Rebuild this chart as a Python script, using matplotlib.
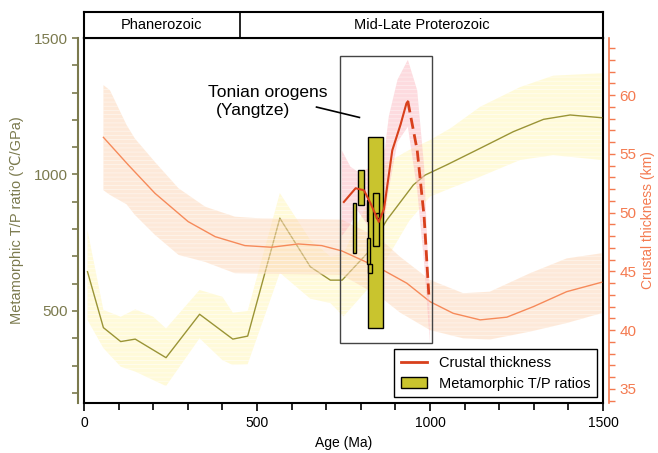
import matplotlib
matplotlib.use("Agg")
import matplotlib.pyplot as plt
from matplotlib.patches import Rectangle, Patch
from matplotlib.lines import Line2D
from matplotlib.ticker import MultipleLocator

plt.rcParams['font.family'] = ['Liberation Sans', 'DejaVu Sans']
plt.rcParams['hatch.linewidth'] = 0.6
plt.rcParams['hatch.color'] = 'white'

# metamorphic T/P ratio (left axis, C/GPa)
tp_age = [10, 56, 106, 148, 237, 334, 430, 473, 566, 654, 712, 746, 819, 875, 952, 986, 1048, 1145, 1241, 1328, 1405, 1496]
tp_val = [644, 439, 388, 397, 329, 488, 397, 408, 840, 662, 613, 613, 712, 833, 962, 998, 1035, 1096, 1157, 1202, 1218, 1208]
tp_band_age = [10, 56, 106, 148, 200, 237, 334, 400, 430, 473, 566, 654, 712, 750, 820, 870, 940, 1000, 1060, 1145, 1260, 1356, 1496]
tp_band_hi = [796, 504, 479, 506, 479, 436, 577, 552, 494, 500, 932, 760, 700, 710, 900, 1040, 1090, 1126, 1170, 1248, 1320, 1362, 1371]
tp_band_lo = [467, 364, 296, 278, 247, 225, 400, 320, 302, 305, 640, 545, 529, 480, 580, 680, 830, 919, 950, 992, 1053, 1071, 1053]

# global crustal thickness (right axis, km)
ct_age = [56, 128, 205, 301, 379, 465, 542, 619, 687, 745, 855, 933, 1000, 1067, 1145, 1222, 1299, 1395, 1496]
ct_val = [56.4, 54.05, 51.64, 49.23, 47.95, 47.19, 47.05, 47.33, 47.19, 46.74, 45.26, 43.99, 42.42, 41.43, 40.87, 41.1, 42.0, 43.27, 44.07]
ct_band_age = [56, 75, 123, 147, 205, 273, 350, 436, 514, 745, 855, 913, 1000, 1096, 1173, 1289, 1395, 1496]
ct_band_hi = [60.85, 60.4, 57.45, 56.3, 54.3, 52.07, 50.5, 49.65, 49.5, 49.4, 47.8, 46.25, 44.27, 43.14, 43.27, 44.84, 46.1, 46.54]
ct_band_lo = [51.9, 51.5, 50.7, 49.8, 48.1, 46.4, 45.8, 44.84, 44.8, 44.7, 42.85, 41.5, 40.0, 39.3, 39.2, 39.87, 40.6, 41.44]

# Yangtze crustal thickness
yz_age = [751, 785, 809, 828, 852, 867, 891, 915, 932, 936]
yz_val = [50.9, 52.07, 51.9, 50.8, 49.2, 50.3, 55.3, 57.5, 59.3, 59.45]
yz_dash_age = [936, 963, 983, 997]
yz_dash_val = [59.45, 55.3, 49.65, 42.8]
yz_band_age = [745, 770, 790, 830, 852, 870, 881, 906, 936, 963, 983, 997, 1000]
yz_band_hi = [55.3, 53.9, 53.5, 53.8, 53.9, 55.5, 58.2, 61.3, 63.0, 60.4, 53.9, 44.0, 38.9]
yz_band_lo = [48.0, 49.0, 50.2, 48.5, 48.0, 49.65, 52.0, 56.0, 57.3, 51.9, 45.7, 40.0, 38.9]

# T/P ratio bars: (age0, age1, low, high)
bars = [
    (817, 826, 828, 905),
    (820, 864, 437, 1137),
    (791, 808, 888, 1016),
    (777, 786, 714, 896),
    (836, 854, 738, 931),
    (817, 826, 672, 766),
    (820, 833, 638, 672),
    (843, 854, 842, 858),
]

olive = '#7b7a4e'
line_olive = '#9a9436'
orange_ax = '#f47a50'
bar_fill = '#c9c42e'

fig = plt.figure(figsize=(6.58, 4.53), dpi=100)
ax = fig.add_axes([0.1277, 0.1104, 0.7887, 0.8057])
ax2 = ax.twinx()

ax.set_xlim(0, 1500)
ax.set_ylim(163, 1500)
ax2.set_ylim(33.8, 64.85)

ax.fill_between(tp_band_age, tp_band_lo, tp_band_hi, color='#fff8c0', alpha=0.6,
                hatch='----', edgecolor='white', linewidth=0, zorder=1)
ax.plot(tp_age, tp_val, color=line_olive, lw=1.0, zorder=3)

ax2.fill_between(ct_band_age, ct_band_lo, ct_band_hi, color='#fdd5b4', alpha=0.5,
                 hatch='----', edgecolor='white', linewidth=0, zorder=1)
ax2.plot(ct_age, ct_val, color='#f68a5a', lw=1.0, zorder=2)
ax2.fill_between(yz_band_age, yz_band_lo, yz_band_hi, color='#fbb0b8', alpha=0.45,
                 hatch='----', edgecolor='white', linewidth=0, zorder=3)

for a0, a1, lo, hi in bars:
    ax2.add_patch(Rectangle((a0, lo), a1 - a0, hi - lo, transform=ax.transData,
                            facecolor=bar_fill, edgecolor='black', lw=1.0, zorder=4))

ax2.plot(yz_age, yz_val, color='#d8401c', lw=1.5, zorder=5)
ax2.plot(yz_dash_age, yz_dash_val, color='#d8401c', lw=2.0, ls=(0, (4, 2)), zorder=5)

ax2.add_patch(Rectangle((741, 384), 266, 1050, transform=ax.transData, fill=False,
                        edgecolor='#444444', lw=1.0, zorder=6))

ax2.plot([672, 796], [1247, 1209], color='black', lw=1.2, transform=ax.transData, zorder=6)
ax2.text(357, 1302, 'Tonian orogens', transform=ax.transData, fontsize=12.5,
         va='center', ha='left')
ax2.text(380, 1235, '(Yangtze)', transform=ax.transData, fontsize=12.5,
         va='center', ha='left')

handles = [Line2D([], [], color='#d8401c', lw=2),
           Patch(facecolor=bar_fill, edgecolor='black')]
leg = ax2.legend(handles, ['Crustal thickness', 'Metamorphic T/P ratios'],
                 loc='lower right', bbox_to_anchor=(0.988, 0.016), borderaxespad=0,
                 fontsize=10.5, fancybox=False, framealpha=1, edgecolor='black',
                 handlelength=1.8, borderpad=0.45, labelspacing=0.45)
leg.get_frame().set_linewidth(1.0)
leg.set_zorder(10)

# spines
for s in ['top', 'bottom', 'right']:
    ax.spines[s].set_color('black')
    ax.spines[s].set_linewidth(1.5)
ax.spines['left'].set_position(('outward', 4.3))
ax.spines['left'].set_color(olive)
ax.spines['left'].set_linewidth(1.5)
ax2.spines['left'].set_color('black')
ax2.spines['left'].set_linewidth(1.5)
ax2.spines['right'].set_position(('outward', 4.3))
ax2.spines['right'].set_color(orange_ax)
ax2.spines['right'].set_linewidth(1.2)
ax2.spines['top'].set_visible(False)
ax2.spines['bottom'].set_visible(False)

ax.xaxis.set_major_locator(MultipleLocator(500))
ax.xaxis.set_minor_locator(MultipleLocator(100))
ax.yaxis.set_major_locator(MultipleLocator(500))
ax.yaxis.set_minor_locator(MultipleLocator(100))
ax2.yaxis.set_major_locator(MultipleLocator(5))
ax2.yaxis.set_minor_locator(MultipleLocator(1))

ax.tick_params(axis='x', which='major', length=6, width=1.2, labelsize=10, colors='black')
ax.tick_params(axis='x', which='minor', length=5, width=1.2)
ax.tick_params(axis='y', which='both', length=4, width=1.2, colors=olive, labelsize=11)
ax2.tick_params(axis='y', which='both', length=4, width=1.0, colors=orange_ax, labelsize=11)

ax.set_xlabel('Age (Ma)', fontsize=10)
ax.set_ylabel('Metamorphic T/P ratio (\u2103/GPa)', fontsize=10.5, color=olive, labelpad=7)
ax2.set_ylabel('Crustal thickness (km)', fontsize=10, color=orange_ax, labelpad=3)

# header bar
hax = fig.add_axes([0.1277, 0.9161, 0.7887, 0.0574])
hax.set_xlim(0, 1500)
hax.set_ylim(0, 1)
hax.set_xticks([])
hax.set_yticks([])
for s in hax.spines.values():
    s.set_linewidth(1.5)
hax.axvline(450, color='black', lw=1.2)
hax.text(225, 0.5, 'Phanerozoic', ha='center', va='center', fontsize=10.5)
hax.text(975, 0.5, 'Mid-Late Proterozoic', ha='center', va='center', fontsize=10.5)

fig.savefig('out.png', dpi=100)
